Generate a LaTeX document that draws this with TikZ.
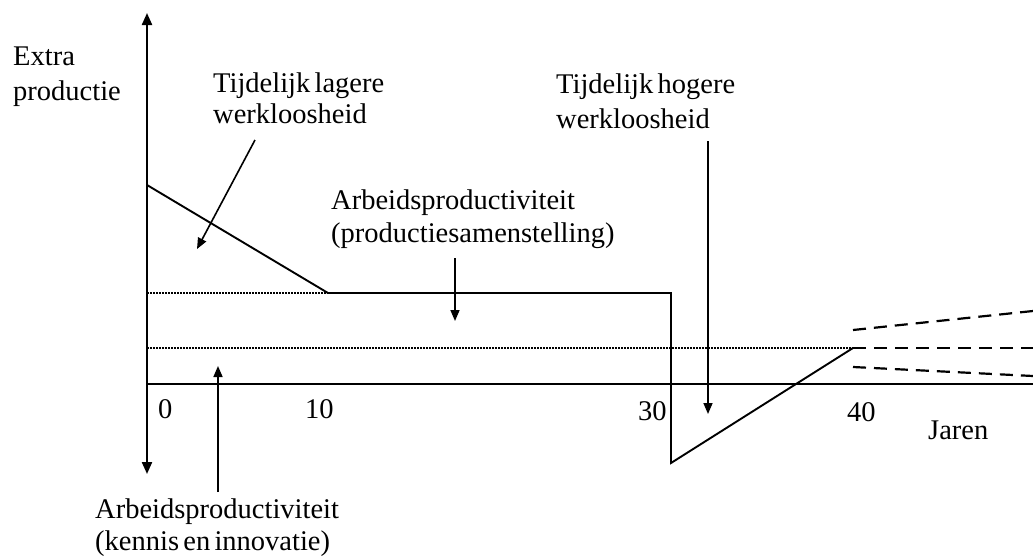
\documentclass[tikz,border=0pt]{standalone}
\usepackage{fontspec}
\setmainfont{Liberation Serif}[WordSpace={0.6,0.5,0.3}]
\usetikzlibrary{arrows.meta}
\begin{document}
\begin{tikzpicture}[x=1pt,y=-1pt,
  lbl/.style={inner sep=0pt,align=left,font=\fontsize{28.5}{32}\selectfont},
  axisline/.style={line width=2.2pt},
  curve/.style={line width=1.9pt},
  guide/.style={line width=1.6pt,dash pattern=on 1.6pt off 1.4pt},
  proj/.style={line width=2.2pt,dash pattern=on 13pt off 8pt},
  pointer/.style={line width=1.6pt,-{Triangle[width=9pt,length=11pt]}}]
\useasboundingbox (0,0) rectangle (1033,557);
% axes
\coordinate (ytop) at (147,13);
\coordinate (ybot) at (147,474);
\coordinate (x0) at (147,384);
\coordinate (xend) at (1033,384);
\draw[axisline,{Triangle[width=10pt,length=12pt]}-{Triangle[width=10pt,length=12pt]}] (ybot) -- (ytop);
\draw[axisline] (x0) -- (xend);
% main curve
\coordinate (p0) at (147,185);
\coordinate (p1) at (328,293);
\coordinate (p2) at (671,293);
\coordinate (p3) at (671,463);
\coordinate (p4) at (853,348);
\draw[curve,line join=miter] (p0) -- (p1) -- (p2) -- (p3) -- (p4);
% dotted guides
\coordinate (g1) at (147,293);
\coordinate (g2) at (147,348);
\draw[guide] (g1) -- (p1);
\draw[guide] (g2) -- (p4);
% dashed projections
\coordinate (d1s) at (853,330);
\coordinate (d1e) at (1033,311);
\coordinate (d2e) at (1033,348);
\coordinate (d3s) at (853,367);
\coordinate (d3e) at (1033,376);
\draw[proj] (d1s) -- (d1e);
\draw[proj] (p4) -- (d2e);
\draw[proj] (d3s) -- (d3e);
% labels (anchor = baseline of last line)
\node[lbl,anchor=base west] (ylab) at (13,100) {Extra\\[3pt]productie};
\node[lbl,anchor=base west] (lager) at (213,123) {Tijdelijk lagere\\[-1pt]werkloosheid};
\node[lbl,anchor=base west] (samen) at (331,242) {Arbeidsproductiviteit\\[1pt](productiesamenstelling)};
\node[lbl,anchor=base west] (hoger) at (556,128) {Tijdelijk hogere\\[3pt]werkloosheid};
\node[lbl,anchor=base west] (kennis) at (95,550) {Arbeidsproductiviteit\\(kennis en innovatie)};
\node[lbl,anchor=base west] (t0) at (158,418) {0};
\node[lbl,anchor=base west] (t10) at (305,418) {10};
\node[lbl,anchor=base west] (t30) at (638,420) {30};
\node[lbl,anchor=base west] (t40) at (847,421) {40};
\node[lbl,anchor=base west] (jaren) at (928,439) {Jaren};
% pointers
\coordinate (a1s) at (255,140);
\coordinate (a1e) at (197,249);
\draw[pointer] (a1s) -- (a1e);
\coordinate (a2s) at (455,258);
\coordinate (a2e) at (455,321);
\draw[pointer] (a2s) -- (a2e);
\coordinate (a3s) at (708,141);
\coordinate (a3e) at (708,414);
\draw[pointer] (a3s) -- (a3e);
\coordinate (a4s) at (218,492);
\coordinate (a4e) at (218,366);
\draw[pointer] (a4s) -- (a4e);
\end{tikzpicture}
\end{document}
